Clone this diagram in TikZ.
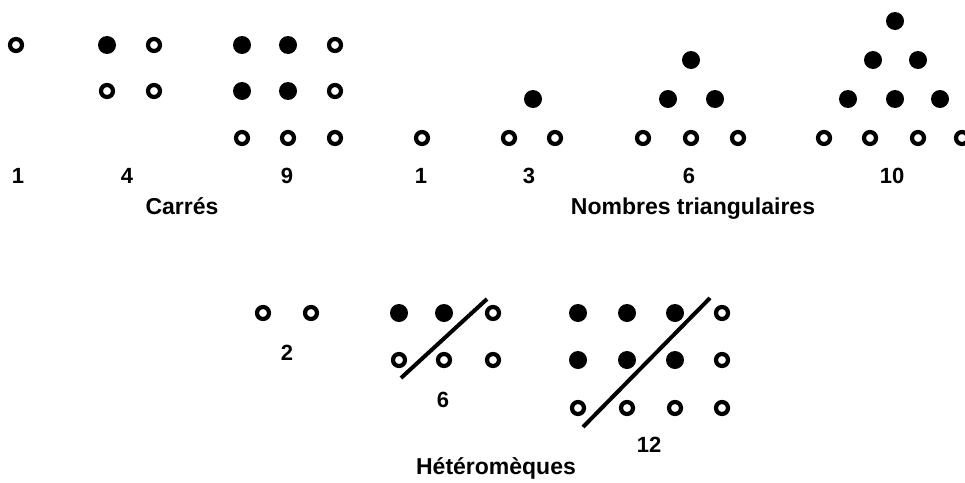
\documentclass[tikz,border=0pt]{standalone}
\usepackage{fontspec}
\setmainfont{Liberation Sans}
\usepackage{tikz}

\begin{document}
\begin{tikzpicture}[x=1pt,y=-1pt,
  opendot/.style={line width=4.2pt},
  filldot/.style={fill=black},
  num/.style={anchor=base,font=\bfseries\fontsize{22}{22}\selectfont},
  titre/.style={anchor=base,font=\bfseries\fontsize{23}{23}\selectfont}]
  \useasboundingbox (0,0) rectangle (965,482);
  % carres
  \foreach \x/\y in {16/45,154/45,107/91,154/91,335/45,335/91,242/138,288/138,335/138}
    \draw[opendot] (\x,\y) circle[radius=6];
  \foreach \x/\y in {107/45,242/45,288/45,242/91,288/91}
    \fill[filldot] (\x,\y) circle[radius=9];
  \node[num] (c1) at (18,183) {1};
  \node[num] (c4) at (127,183) {4};
  \node[num] (c9) at (287,183) {9};
  \node[titre] (carres) at (182,214) {Carrés};
  % triangulaires
  \foreach \x/\y in {422/138,509/138,555/138,643/138,691/138,738/138,824/138,870/138,918/138,962/138}
    \draw[opendot] (\x,\y) circle[radius=6];
  \foreach \x/\y in {533/99,691/60,668/99,715/99,895/21,873/60,918/60,848/99,895/99,940/99}
    \fill[filldot] (\x,\y) circle[radius=9];
  \node[num] (t1) at (421,183) {1};
  \node[num] (t3) at (529,183) {3};
  \node[num] (t6) at (689,183) {6};
  \node[num] (t10) at (892,183) {10};
  \node[titre] (triang) at (693,214) {Nombres triangulaires};
  % heteromeques
  \foreach \x/\y in {263/313,311/313,493/313,399/360,444/360,493/360,722/313,722/360,578/408,627/408,675/408,722/408}
    \draw[opendot] (\x,\y) circle[radius=6];
  \foreach \x/\y in {399/313,444/313,578/313,627/313,675/313,578/360,627/360,675/360}
    \fill[filldot] (\x,\y) circle[radius=9];
  \coordinate (A) at (401,378);
  \coordinate (B) at (487,299);
  \coordinate (C) at (583,427);
  \coordinate (D) at (710,298);
  \draw[line width=4pt] (A)--(B);
  \draw[line width=4pt] (C)--(D);
  \node[num] (h2) at (287,360) {2};
  \node[num] (h6) at (443,407) {6};
  \node[num] (h12) at (649,452) {12};
  \node[titre] (hetero) at (496,474) {Hétéromèques};
\end{tikzpicture}
\end{document}
